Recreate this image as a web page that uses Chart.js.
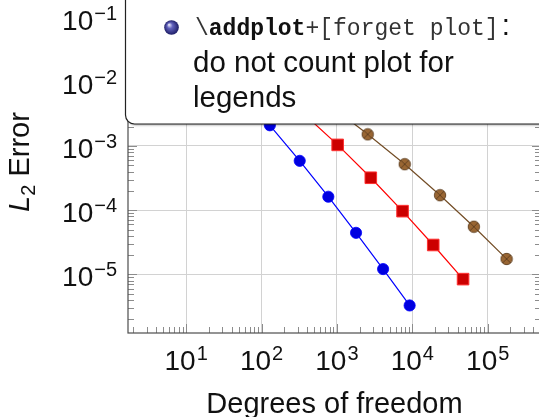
<!DOCTYPE html>
<html lang="en">
<head>
  <meta charset="UTF-8" />
  <title>L2 error vs degrees of freedom</title>
  <script src="https://cdn.jsdelivr.net/npm/chart.js"></script>
  <style>
    html, body {
      margin: 0;
      padding: 0;
      background: #fff;
    }
    .wrap {
      width: 539px;
      height: 417px;
      overflow: hidden;
      position: relative;
    }
    canvas {
      position: absolute;
      left: 0;
      top: 0;
    }
  </style>
</head>
<body>
  <div class="wrap">
    <canvas id="errChart" width="560" height="417"></canvas>
  </div>

  <script>
    // convergence data, three discretisations
    const dofBlue = [5, 17, 49, 129, 321, 769, 1793, 4097, 9217];
    const errBlue = [8.31e-2, 2.55e-2, 7.41e-3, 2.10e-3, 5.87e-4, 1.62e-4, 4.44e-5, 1.21e-5, 3.28e-6];

    const dofRed = [7, 31, 111, 351, 1023, 2815, 7423, 18943, 47103];
    const errRed = [8.47e-2, 3.04e-2, 1.02e-2, 3.30e-3, 1.04e-3, 3.20e-4, 9.66e-5, 2.87e-5, 8.44e-6];

    const dofBrown = [9, 49, 209, 769, 2561, 7937, 23297, 65537, 178000];
    const errBrown = [8.0e-2, 3.6e-2, 1.35e-2, 4.5e-3, 1.52e-3, 5.2e-4, 1.71e-4, 5.53e-5, 1.74e-5];

    // decade ticks and their exponent labels
    const xTickVals = [1e1, 1e2, 1e3, 1e4, 1e5];
    const xTickExp = ['1', '2', '3', '4', '5'];
    const yTickVals = [1e-1, 1e-2, 1e-3, 1e-4, 1e-5];
    const yTickExp = ['\u22121', '\u22122', '\u22123', '\u22124', '\u22125'];

    const xTitle = 'Degrees of freedom';
    const noteCode = ['\\', 'addplot', '+[forget plot]'];
    const noteLines = ['do not count plot for', 'legends'];

    const SANS = '"Liberation Sans", Arial, Helvetica, sans-serif';
    const MONO = '"Liberation Mono", "DejaVu Sans Mono", monospace';

    function pts(xs, ys) {
      return xs.map((x, i) => ({ x: x, y: ys[i] }));
    }

    // circle with a cross through it (otimes mark)
    function otimesMark(r, fill, stroke) {
      const c = document.createElement('canvas');
      const s = Math.ceil(2 * r + 2);
      c.width = s;
      c.height = s;
      const g = c.getContext('2d');
      const m = s / 2;
      g.beginPath();
      g.arc(m, m, r, 0, Math.PI * 2);
      g.fillStyle = fill;
      g.fill();
      g.lineWidth = 0.9;
      g.strokeStyle = stroke;
      g.stroke();
      const d = r * Math.SQRT1_2;
      g.beginPath();
      g.moveTo(m - d, m - d); g.lineTo(m + d, m + d);
      g.moveTo(m + d, m - d); g.lineTo(m - d, m + d);
      g.stroke();
      return c;
    }

    function sciLabel(ctx, exp, x, baseY, align) {
      ctx.font = '28px ' + SANS;
      const bw = ctx.measureText('10').width;
      ctx.font = '20px ' + SANS;
      const sw = ctx.measureText(exp).width;
      const total = bw + sw + 1;
      let left = x;
      if (align === 'center') left = x - total / 2;
      if (align === 'right') left = x - total;
      ctx.textAlign = 'left';
      ctx.textBaseline = 'alphabetic';
      ctx.font = '28px ' + SANS;
      ctx.fillText('10', left, baseY);
      ctx.font = '20px ' + SANS;
      ctx.fillText(exp, left + bw + 1, baseY - 10);
    }

    const axisDecor = {
      id: 'axisDecor',
      beforeDatasetsDraw(chart) {
        const ctx = chart.ctx;
        const a = chart.chartArea;
        const xs = chart.scales.x;
        const ys = chart.scales.y;
        ctx.save();
        ctx.lineWidth = 1;
        ctx.strokeStyle = '#8c8c8c';

        // minor + major ticks, pointing inwards
        const x0 = Math.floor(Math.log10(xs.min));
        const x1 = Math.ceil(Math.log10(xs.max));
        for (let d = x0; d <= x1; d++) {
          for (let k = 1; k <= 9; k++) {
            const v = k * Math.pow(10, d);
            if (v < xs.min || v > xs.max) continue;
            const px = Math.round(xs.getPixelForValue(v)) + 0.5;
            const len = k === 1 ? 9 : 6;
            ctx.beginPath();
            ctx.moveTo(px, a.bottom);
            ctx.lineTo(px, a.bottom - len);
            ctx.moveTo(px, a.top);
            ctx.lineTo(px, a.top + len);
            ctx.stroke();
          }
        }
        const y0 = Math.floor(Math.log10(ys.min));
        const y1 = Math.ceil(Math.log10(ys.max));
        for (let d = y0; d <= y1; d++) {
          for (let k = 1; k <= 9; k++) {
            const v = k * Math.pow(10, d);
            if (v < ys.min || v > ys.max) continue;
            const py = Math.round(ys.getPixelForValue(v)) + 0.5;
            const len = k === 1 ? 9 : 6;
            ctx.beginPath();
            ctx.moveTo(a.left, py);
            ctx.lineTo(a.left + len, py);
            ctx.moveTo(a.right, py);
            ctx.lineTo(a.right - len, py);
            ctx.stroke();
          }
        }

        ctx.strokeStyle = '#4d4d4d';
        ctx.lineWidth = 1.2;
        ctx.strokeRect(a.left, a.top, a.right - a.left, a.bottom - a.top);
        ctx.restore();
      },
      afterDraw(chart) {
        const ctx = chart.ctx;
        const a = chart.chartArea;
        const xs = chart.scales.x;
        const ys = chart.scales.y;
        ctx.save();
        ctx.fillStyle = '#111';

        // tick labels 10^n
        xTickVals.forEach((v, i) => {
          sciLabel(ctx, xTickExp[i], xs.getPixelForValue(v), 370, 'center');
        });
        yTickVals.forEach((v, i) => {
          sciLabel(ctx, yTickExp[i], a.left - 11, ys.getPixelForValue(v) + 12, 'right');
        });

        // axis titles
        ctx.font = '29px ' + SANS;
        ctx.textAlign = 'center';
        ctx.textBaseline = 'alphabetic';
        ctx.fillText(xTitle, (a.left + a.right) / 2, 413);

        ctx.save();
        ctx.translate(29, 162);
        ctx.rotate(-Math.PI / 2);
        ctx.textAlign = 'left';
        ctx.font = 'italic 29px ' + SANS;
        const wL = ctx.measureText('L').width;
        ctx.font = '20px ' + SANS;
        const w2 = ctx.measureText('2').width;
        ctx.font = '29px ' + SANS;
        const wE = ctx.measureText(' Error').width;
        let tx = -(wL + w2 + wE) / 2;
        ctx.font = 'italic 29px ' + SANS;
        ctx.fillText('L', tx, 0);
        tx += wL;
        ctx.font = '20px ' + SANS;
        ctx.fillText('2', tx, 6);
        tx += w2;
        ctx.font = '29px ' + SANS;
        ctx.fillText(' Error', tx, 0);
        ctx.restore();

        // note box over the upper part of the plot
        const bx = 125.5, by = 124, r = 9, W = chart.width + 5;
        ctx.save();
        ctx.beginPath();
        ctx.moveTo(bx, -5);
        ctx.lineTo(bx, by - r);
        ctx.arcTo(bx, by, bx + r, by, r);
        ctx.lineTo(W, by);
        ctx.lineTo(W, -5);
        ctx.closePath();
        ctx.shadowColor = 'rgba(0,0,0,0.3)';
        ctx.shadowOffsetX = 1;
        ctx.shadowOffsetY = 1.5;
        ctx.shadowBlur = 2;
        ctx.fillStyle = '#fff';
        ctx.fill();
        ctx.shadowColor = 'transparent';
        ctx.strokeStyle = '#222';
        ctx.lineWidth = 1.2;
        ctx.stroke();
        ctx.restore();

        // shaded ball bullet
        const cx = 171.5, cy = 27.5, br = 7.3;
        const grd = ctx.createRadialGradient(cx - 2.5, cy - 2.8, 0.4, cx, cy, br);
        grd.addColorStop(0, '#e4e4f8');
        grd.addColorStop(0.35, '#6262bd');
        grd.addColorStop(1, '#1d1d66');
        ctx.beginPath();
        ctx.arc(cx, cy, br, 0, Math.PI * 2);
        ctx.fillStyle = grd;
        ctx.fill();

        ctx.textAlign = 'left';
        let nx = 195;
        ctx.fillStyle = '#333';
        ctx.font = '23px ' + MONO;
        ctx.fillText(noteCode[0], nx, 35);
        nx += ctx.measureText(noteCode[0]).width;
        ctx.fillStyle = '#111';
        ctx.font = 'bold 23px ' + MONO;
        ctx.fillText(noteCode[1], nx, 35);
        nx += ctx.measureText(noteCode[1]).width;
        ctx.fillStyle = '#333';
        ctx.font = '23px ' + MONO;
        ctx.fillText(noteCode[2], nx, 35);
        nx += ctx.measureText(noteCode[2]).width;
        ctx.fillStyle = '#111';
        ctx.font = '29.5px ' + SANS;
        ctx.fillText(':', nx + 3, 35);

        ctx.fillText(noteLines[0], 193, 72);
        ctx.fillText(noteLines[1], 193, 107);
        ctx.restore();
      }
    };

    const powersOnly = vals => scale => {
      scale.ticks = vals.map(v => ({ value: v, major: true }));
    };

    const ctx = document.getElementById('errChart').getContext('2d');
    new Chart(ctx, {
      type: 'scatter',
      data: {
        datasets: [
          {
            data: pts(dofBlue, errBlue),
            showLine: true,
            borderColor: '#0000ff',
            borderWidth: 1.2,
            pointStyle: 'circle',
            pointRadius: 5.6,
            pointBackgroundColor: '#0000e0',
            pointBorderColor: '#0000ff',
            pointBorderWidth: 0.8
          },
          {
            data: pts(dofRed, errRed),
            showLine: true,
            borderColor: '#ff0000',
            borderWidth: 1.2,
            pointStyle: 'rect',
            pointRadius: 8.2,
            pointBackgroundColor: '#cc0000',
            pointBorderColor: '#ff3030',
            pointBorderWidth: 1
          },
          {
            data: pts(dofBrown, errBrown),
            showLine: true,
            borderColor: '#734d26',
            borderWidth: 1.2,
            pointStyle: otimesMark(5.7, '#996633', '#5c3d1e'),
            pointRadius: 6
          }
        ]
      },
      options: {
        responsive: false,
        animation: false,
        events: [],
        layout: {
          autoPadding: false,
          padding: { left: 128, right: 19, top: 0, bottom: 84 }
        },
        plugins: {
          legend: { display: false },
          tooltip: { enabled: false }
        },
        scales: {
          x: {
            type: 'logarithmic',
            min: Math.pow(10, 0.2287),
            max: Math.pow(10, 5.707),
            afterBuildTicks: powersOnly(xTickVals),
            ticks: { display: false },
            border: { display: false },
            grid: { color: '#d2d2d2', lineWidth: 1, drawTicks: false }
          },
          y: {
            type: 'logarithmic',
            min: Math.pow(10, -5.913),
            max: Math.pow(10, -0.726),
            afterBuildTicks: powersOnly(yTickVals),
            ticks: { display: false },
            border: { display: false },
            grid: { color: '#d2d2d2', lineWidth: 1, drawTicks: false }
          }
        }
      },
      plugins: [axisDecor]
    });
  </script>
</body>
</html>
